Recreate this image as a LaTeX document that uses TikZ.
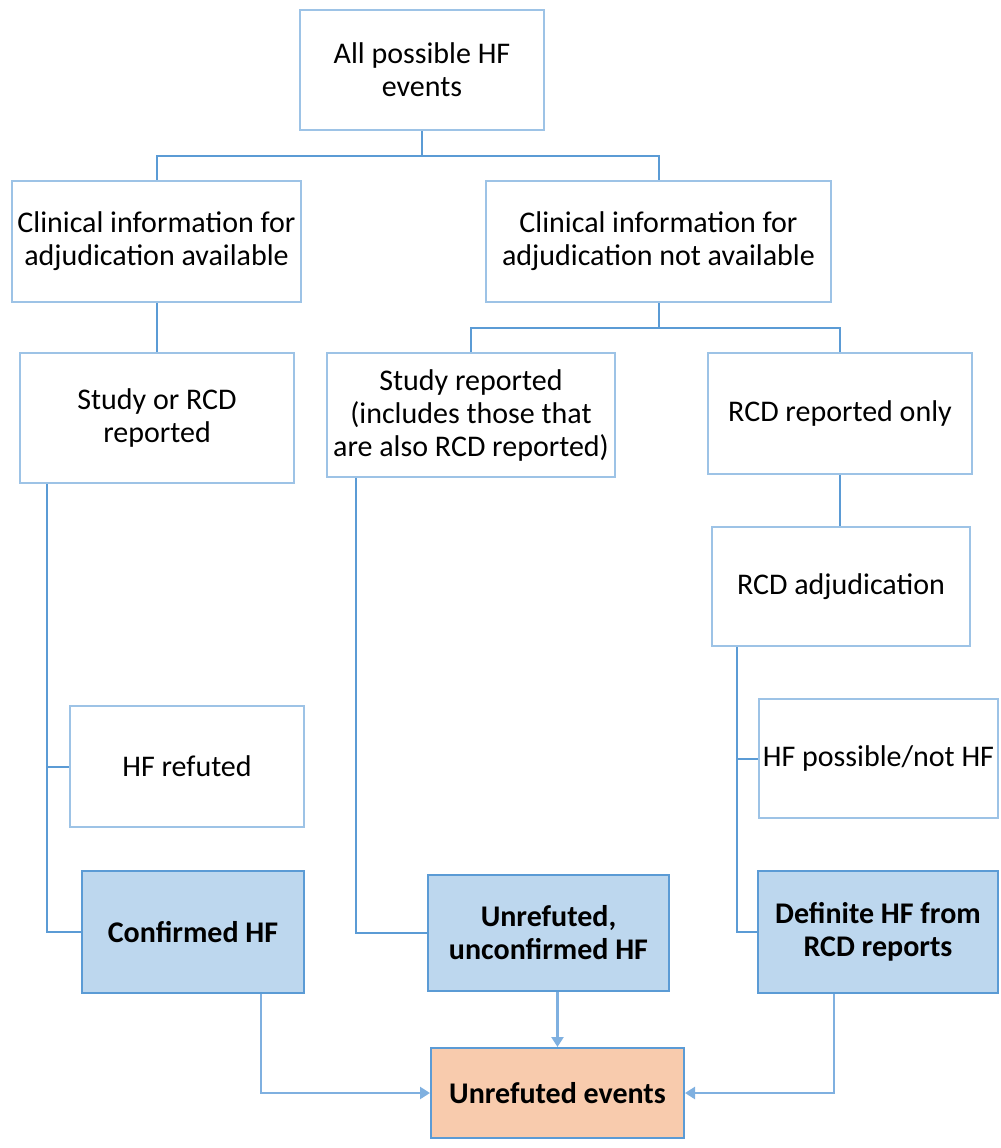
\documentclass[tikz,border=0pt]{standalone}
\usepackage{fontspec}
\setmainfont{Carlito}
\usepackage{tikz}
\usetikzlibrary{arrows.meta}
\definecolor{boxline}{HTML}{9DC3E6}
\definecolor{linkline}{HTML}{5B9BD5}
\definecolor{hfblue}{HTML}{BDD7EE}
\definecolor{hforange}{HTML}{F8CBAD}
\definecolor{arrline}{HTML}{7FB0E0}

\begin{document}
\begin{tikzpicture}[x=0.5pt,y=-0.5pt,
	box/.style={draw=boxline,line width=1pt,fill=white,align=center,inner sep=0pt,
		font=\fontsize{15}{16.5}\selectfont},
	result/.style={box,draw=linkline,fill=hfblue,font=\fontsize{15}{16.5}\selectfont\bfseries},
	final/.style={result,fill=hforange},
	link/.style={draw=linkline,line width=1pt},
	flow/.style={draw=arrline,line width=1.2pt,-{Triangle[width=6pt,length=5pt]}}]
	\useasboundingbox (0,0) rectangle (1001,1148);
	%\draw[help lines] (0,0) grid[step=100] (1001,1148);
	\node[box,minimum width=122pt,minimum height=60pt] (all) at (422,70) {All possible HF\\events};
	\node[box,minimum width=144.5pt,minimum height=60.5pt] (avail) at (156.5,241.5) {Clinical information for\\adjudication available};
	\node[box,minimum width=172.5pt,minimum height=60.5pt] (navail) at (658.5,241.5) {Clinical information for\\adjudication not available};
	\node[box,minimum width=137pt,minimum height=65pt] (studyrcd) at (157,418) {Study or RCD\\reported};
	\node[box,minimum width=144pt,minimum height=62pt] (study) at (471,415) {Study reported\\(includes those that\\are also RCD reported)};
	\node[box,minimum width=132pt,minimum height=60.5pt] (rcdonly) at (840,413.5) {RCD reported only};
	\node[box,minimum width=129pt,minimum height=59.5pt] (rcdadj) at (841,586.5) {RCD adjudication};
	\node[box,minimum width=119.5pt,minimum height=59.5pt] (possible) at (878.5,758.5) {HF possible/not HF};
	\node[box,minimum width=117pt,minimum height=60.5pt] (refuted) at (187,766.5) {HF refuted};
	\node[result,minimum width=111pt,minimum height=61pt] (confirmed) at (193,932) {Confirmed HF};
	\node[result,minimum width=120.5pt,minimum height=58pt] (unconf) at (548.5,933) {Unrefuted,\\unconfirmed HF};
	\node[result,minimum width=120pt,minimum height=61pt] (definite) at (878,932) {Definite HF from\\RCD reports};
	\node[final,minimum width=126.5pt,minimum height=45pt] (unrefuted) at (557.5,1093) {Unrefuted events};
	% tree
	\draw[link] (all.south) -- ++(0,25) coordinate (j1) -| (avail.north);
	\draw[link] (j1) -| (navail.north);
	\draw[link] (avail.south) -- (avail.south |- studyrcd.north);
	\draw[link] (navail.south) -- ++(0,25) coordinate (j2) -| (study.north);
	\draw[link] (j2) -| (rcdonly.north);
	\draw[link] (rcdonly.south) -- (rcdonly.south |- rcdadj.north);
	\draw[link] (studyrcd.south west) ++(28,0) coordinate (s1) |- (confirmed.west);
	\draw[link] (s1 |- refuted.west) -- (refuted.west);
	\draw[link] (study.south west) ++(30,0) |- (unconf.west);
	\draw[link] (rcdadj.south west) ++(26,0) coordinate (s3) |- (definite.west);
	\draw[link] (s3 |- possible.west) -- (possible.west);
	% into unrefuted events
	\draw[flow] (confirmed.south east) ++(-44,0) |- (unrefuted.west);
	\draw[flow] (unrefuted.north |- unconf.south) -- (unrefuted.north);
	\draw[flow] (definite.south west) ++(77,0) |- (unrefuted.east);
\end{tikzpicture}
\end{document}
